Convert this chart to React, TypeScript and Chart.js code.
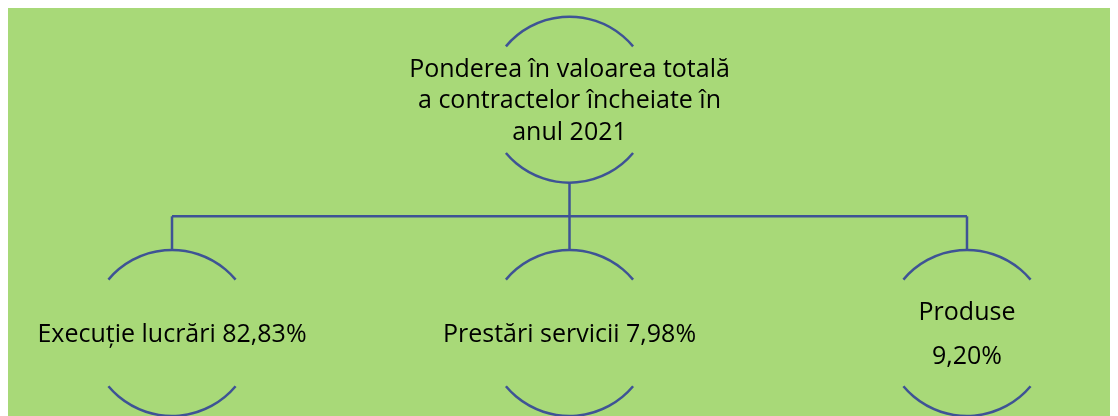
import React, { useEffect, useRef } from "react";
import { Chart, registerables } from "chart.js";

Chart.register(...registerables);

// ---- data ----
const rootTitleLines = ["Ponderea în valoarea totală", "a contractelor încheiate în", "anul 2021"];
const categories = ["Execuție lucrări", "Prestări servicii", "Produse"];
const shares = [82.83, 7.98, 9.2];
const childIndex = [0, 1, 2];
const rootIndex = 1;
const rootLevel = 0;
const childLevel = 1;
const barLevel = 0.5;

const fmt = (v: number) => v.toFixed(2).replace(".", ",") + "%";

const LINE = "#3E5395";
const BG = "#A8D978";
const FONT = "'Open Sans', 'Noto Sans', sans-serif";
const FS = 25;
const R = 83;

export default function App() {
  const ref = useRef<HTMLCanvasElement | null>(null);
  useEffect(() => {
    if (!ref.current) return;
    const treePlugin = {
      id: "tree",
      afterDatasetsDraw(chart: any) {
        const ctx = chart.ctx as CanvasRenderingContext2D;
        const xs = chart.scales.x;
        const ys = chart.scales.y;
        const px = (v: number) => xs.getPixelForValue(v);
        const py = (v: number) => ys.getPixelForValue(v);
        ctx.save();
        ctx.strokeStyle = LINE;
        ctx.lineWidth = 2.5;
        const a = (40 * Math.PI) / 180;
        const circ = (cx: number, cy: number) => {
          ctx.beginPath();
          ctx.arc(cx, cy, R, Math.PI + a, 2 * Math.PI - a);
          ctx.stroke();
          ctx.beginPath();
          ctx.arc(cx, cy, R, a, Math.PI - a);
          ctx.stroke();
        };
        // connectors
        const rx = px(rootIndex);
        const ry = py(rootLevel);
        const by = py(barLevel);
        ctx.beginPath();
        ctx.moveTo(rx, ry + R);
        ctx.lineTo(rx, by);
        ctx.stroke();
        ctx.beginPath();
        ctx.moveTo(px(childIndex[0]), by);
        ctx.lineTo(px(childIndex[childIndex.length - 1]), by);
        ctx.stroke();
        childIndex.forEach((ci) => {
          ctx.beginPath();
          ctx.moveTo(px(ci), by);
          ctx.lineTo(px(ci), py(childLevel) - R);
          ctx.stroke();
        });
        circ(rx, ry);
        childIndex.forEach((ci) => circ(px(ci), py(childLevel)));
        // text
        ctx.fillStyle = "#000";
        ctx.font = `${FS}px ${FONT}`;
        ctx.textAlign = "center";
        ctx.textBaseline = "alphabetic";
        const lh = 31.7;
        rootTitleLines.forEach((t, i) => {
          ctx.fillText(t, rx, ry - 23 + i * lh);
        });
        childIndex.forEach((ci, i) => {
          const cx = px(ci);
          const cy = py(childLevel);
          if (i === 2) {
            ctx.fillText(categories[i], cx, cy - 13);
            ctx.fillText(fmt(shares[i]), cx, cy + 31);
          } else {
            ctx.fillText(categories[i] + " " + fmt(shares[i]), cx, cy + 8.7);
          }
        });
        ctx.restore();
      },
    };
    const chart = new Chart(ref.current, {
      type: "scatter",
      data: {
        datasets: [
          {
            data: [
              { x: rootIndex, y: rootLevel },
              ...childIndex.map((c) => ({ x: c, y: childLevel })),
            ],
            pointRadius: 0,
          },
        ],
      },
      options: {
        animation: false,
        responsive: false,
        layout: { padding: 0 },
        plugins: { legend: { display: false }, tooltip: { enabled: false } },
        scales: {
          x: { type: "linear", display: false, min: -0.4126, max: 2.3799 },
          y: { type: "linear", display: false, reverse: true, min: -0.393, max: 1.356 },
        },
      },
      plugins: [treePlugin],
    });
    return () => chart.destroy();
  }, []);
  return (
    <>
      <style>{`html,body{overflow:hidden}`}</style>
      <div style={{ width: 1110, height: 408, background: BG }}>
        <canvas ref={ref} width={1110} height={408} style={{ display: "block" }} />
      </div>
    </>
  );
}
